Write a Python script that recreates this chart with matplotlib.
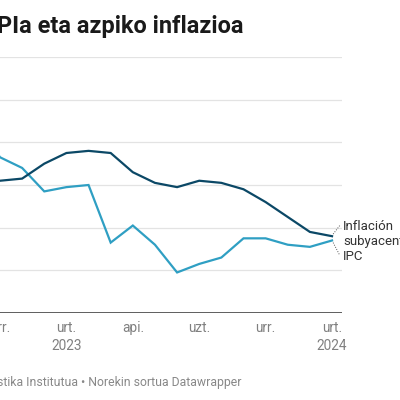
import matplotlib
matplotlib.use("Agg")
import matplotlib.pyplot as plt

plt.rcParams["font.family"] = ["Roboto", "DejaVu Sans"]

# hilabetekako datuak (%), 2022-09 .. 2024-01
months = ["2022-09", "2022-10", "2022-11", "2022-12", "2023-01", "2023-02",
          "2023-03", "2023-04", "2023-05", "2023-06", "2023-07", "2023-08",
          "2023-09", "2023-10", "2023-11", "2023-12", "2024-01"]
ipc = [8.9, 7.3, 6.8, 5.7, 5.9, 6.0, 3.3, 4.1, 3.2, 1.9, 2.3, 2.6,
       3.5, 3.5, 3.2, 3.1, 3.4]
subyacente = [6.2, 6.2, 6.3, 7.0, 7.5, 7.6, 7.5, 6.6, 6.1, 5.9, 6.2, 6.1,
              5.8, 5.2, 4.5, 3.8, 3.6]
tick_months = ["2022-10", "2023-01", "2023-04", "2023-07", "2023-10", "2024-01"]
tick_labels = ["urr.", "urt.\n2023", "api.", "uzt.", "urr.", "urt.\n2024"]
y_ticks = [0, 2, 4, 6, 8, 10, 12]

DARK = "#0b4866"
LIGHT = "#2f9fc3"

x = [i - 1 for i in range(len(months))]
xt = [months.index(m) - 1 for m in tick_months]

fig = plt.figure(figsize=(4, 4), dpi=100)
ax = fig.add_axes([0.0, 87 / 400, 342 / 400, 256 / 400])
ax.set_xlim(0, 15.45)
ax.set_ylim(0, 12)

for y in y_ticks[1:]:
    ax.axhline(y, color="#e3e3e3", lw=0.9, zorder=0)
ax.axhline(0, color="#333333", lw=1.1, zorder=1)

ax.plot(x, ipc, color=LIGHT, lw=1.6, zorder=3, solid_joinstyle="miter")
ax.plot(x, subyacente, color=DARK, lw=1.6, zorder=3, solid_joinstyle="miter")

for s in ax.spines.values():
    s.set_visible(False)
ax.set_yticks([])
ax.set_xticks(xt)
ax.set_xticklabels(tick_labels, fontsize=9.8, color="#808080", linespacing=1.3)
ax.tick_params(axis="x", length=0, pad=6)

# eskuineko etiketak
ax.plot([x[-1] + 0.05, 15.35], [subyacente[-1] + 0.1, 4.1], ls=(0, (1, 1.5)),
        color="#555555", lw=0.7, clip_on=False)
ax.plot([x[-1] + 0.05, 15.35], [ipc[-1] - 0.1, 2.7], ls=(0, (1, 1.5)),
        color="#555555", lw=0.7, clip_on=False)
fig.text(343 / 400, 1 - 227 / 400, "Inflación", fontsize=9.5, color="#333333",
         va="center", ha="left")
fig.text(343 / 400, 1 - 242 / 400, "subyacente", fontsize=9.5, color="#333333",
         va="center", ha="left")
fig.text(343 / 400, 1 - 256 / 400, "IPC", fontsize=9.5, color="#333333",
         va="center", ha="left")

fig.text(243 / 400, 1 - 33 / 400, "KPIa eta azpiko inflazioa", fontsize=16.9,
         fontweight="bold", color="#1a1a1a", ha="right", va="baseline")
fig.text(241 / 400, 1 - 386 / 400,
         "Iturria: Espainiako Estatistika Institutua • Norekin sortua Datawrapper",
         fontsize=8.8, color="#888888", ha="right", va="baseline")

fig.savefig("out.png", dpi=100)
